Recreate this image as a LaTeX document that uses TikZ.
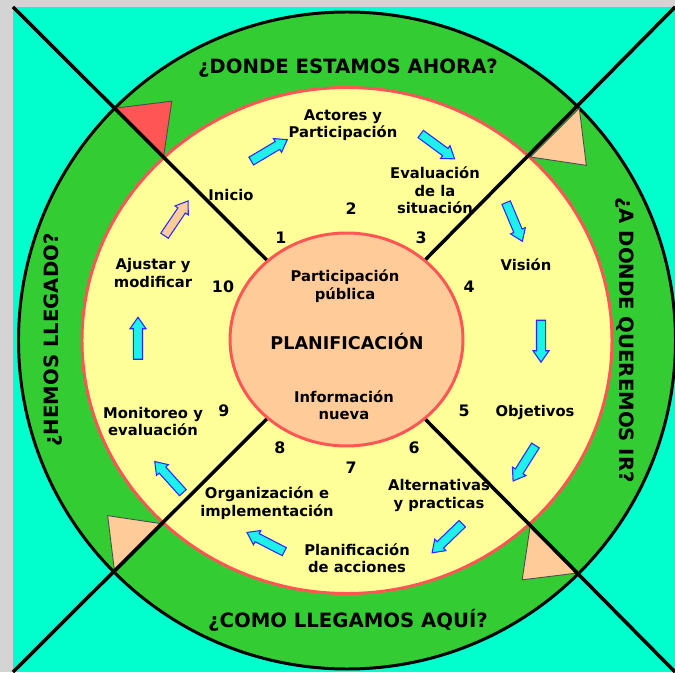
\documentclass[tikz,border=0pt]{standalone}
\usepackage{fontspec}
\setmainfont{DejaVu Sans}
\usetikzlibrary{shapes.geometric,shapes.arrows}
\definecolor{fondo}{RGB}{212,212,212}
\definecolor{turquesa}{RGB}{0,255,204}
\definecolor{verde}{RGB}{51,204,51}
\definecolor{crema}{RGB}{255,255,153}
\definecolor{rojo}{RGB}{255,85,85}
\definecolor{salmon}{RGB}{255,204,153}
\definecolor{cian}{RGB}{30,240,235}
\definecolor{azul}{RGB}{40,40,255}
\tikzset{
  pregunta/.style={font=\fontsize{11.2}{13}\selectfont\bfseries, inner sep=0pt},
  etapa/.style={font=\fontsize{8.4}{9.9}\selectfont\bfseries, align=center, inner sep=0pt},
  numero/.style={font=\fontsize{9}{10}\selectfont\bfseries, inner sep=0pt},
  flecha/.style={single arrow, draw=azul, line width=0.6pt, fill=cian, inner sep=0pt,
    text height=0.16cm, text depth=0pt, minimum height=0.84cm,
    single arrow head extend=0.07cm, single arrow tip angle=70},
  punta/.style={draw=black!70, line width=0.5pt}
}

\begin{document}
\begin{tikzpicture}[x=0.02cm, y=0.02cm]
\useasboundingbox (-347,340.5) rectangle (328,-331.5);
\fill[fondo] (-347,340.5) rectangle (328,-331.5);
\fill[turquesa] (-334,333.5) rectangle (328,-331.5);

% anillos
\draw[fill=verde, line width=1.7pt] (0,0) circle (328.5);
\draw[fill=crema, draw=rojo, line width=1.7pt] (0,0) ellipse [x radius=265, y radius=253];

% triangulos en los cruces
\foreach \g/\c in {0/rojo, -90/salmon, -180/salmon, -270/salmon}
  \filldraw[punta, fill=\c, rotate=\g] (135:328.5) -- (126.2:296.6) -- (135:259.5) -- cycle;

\node[ellipse, draw=rojo, fill=salmon, line width=1.7pt, minimum width=4.66cm, minimum height=4.26cm] (plan) at (-0.5,1) {};

\foreach \x/\y [count=\i] in {-334/333.5, 328/333.5, 328/-331.5, -334/-331.5}{
  \coordinate (e\i) at (\x,\y);
  \draw[line width=2pt] (e\i) -- (plan);
}

% preguntas
\node[pregunta] (q1) at (1,272.5) {¿DONDE ESTAMOS AHORA?};
\node[pregunta, rotate=-90] (q2) at (278,0.5) {¿A DONDE QUEREMOS IR?};
\node[pregunta] (q3) at (1,-279.5) {¿COMO LLEGAMOS AQUÍ?};
\node[pregunta, rotate=90] (q4) at (-294,0.5) {¿HEMOS LLEGADO?};

% etapas
\node[etapa] (p1) at (-116,145.5) {Inicio};
\node[etapa] (p2) at (-4,215.5) {Actores y\\Participación};
\node[etapa] (p3) at (88,150) {Evaluación\\de la\\situación};
\node[etapa] (p4) at (179,75.5) {Visión};
\node[etapa] (p5) at (188,-71.5) {Objetivos};
\node[etapa] (p6) at (92,-155) {Alternativas\\y practicas};
\node[etapa] (p7) at (10,-218) {Planificación\\de acciones};
\node[etapa] (p8) at (-80,-162.5) {Organización e\\implementación};
\node[etapa] (p9) at (-194,-81) {Monitoreo y\\evaluación};
\node[etapa] (p10) at (-194,67.5) {Ajustar y\\modificar};

% centro
\node[etapa] (pp) at (-2,54.5) {Participación\\pública};
\node[font=\fontsize{10}{12}\selectfont\bfseries, inner sep=0pt] (titulo) at (0,-0.5) {PLANIFICACIÓN};
\node[etapa] (info) at (-3,-65) {Información\\nueva};

\foreach \x/\y [count=\i] in {-66/102.5, 4/131.5, 74/102.5, 122/53.5, 117/-70.5, 67/-107.5, 4/-127.5, -67/-107.5, -123/-70.5, -124/53.5}
  \node[numero] (n\i) at (\x,\y) {\i};

% flechas
\foreach \x/\y/\r/\c [count=\i] in {-80.5/188.5/30.7/cian, 88/196/-36.3/cian, 166/121.5/-67.2/cian, 194/2.5/-90/cian, 179/-120/-122.2/cian, 102.5/-195.5/-136/cian, -78.5/-203/152.8/cian, -176/-139/132.1/cian, -209/-1/90/cian, -172.5/119.5/55.9/salmon}
  \node[flecha, fill=\c, rotate=\r] (a\i) at (\x,\y) {};
\end{tikzpicture}
\end{document}
